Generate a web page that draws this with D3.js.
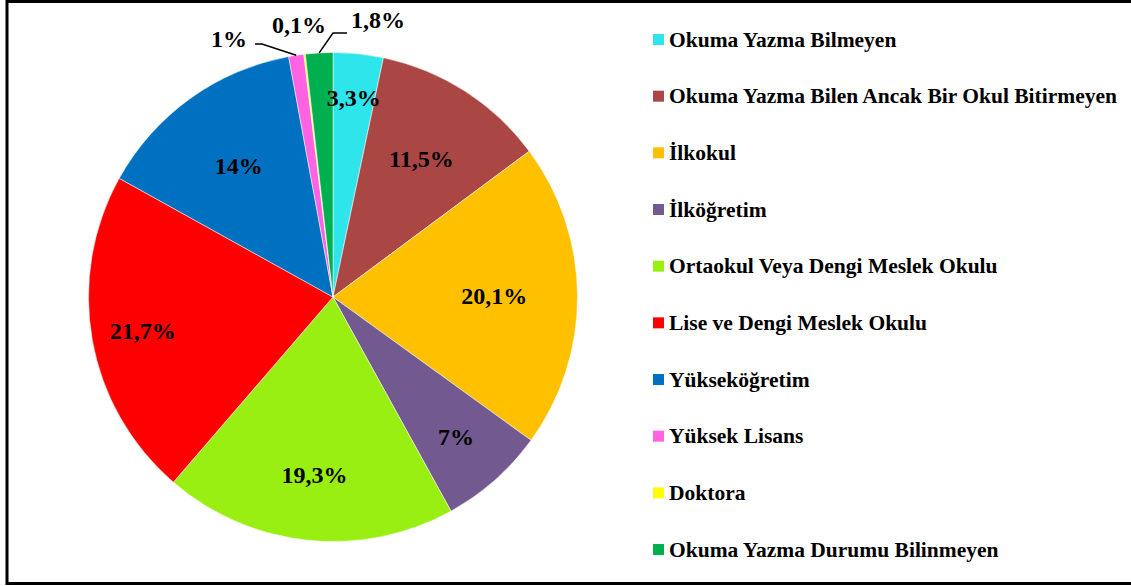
<!DOCTYPE html>
<html lang="tr">
<head>
<meta charset="utf-8">
<title>Eğitim Durumu</title>
<script src="https://d3js.org/d3.v7.min.js"></script>
<style>
  body { margin: 0; background: #fff; }
  text { font-family: "Liberation Serif", "Times New Roman", serif; font-weight: bold; }
</style>
</head>
<body>
<script>
// data
var categories = [
  "Okuma Yazma Bilmeyen",
  "Okuma Yazma Bilen Ancak Bir Okul Bitirmeyen",
  "İlkokul",
  "İlköğretim",
  "Ortaokul Veya Dengi Meslek Okulu",
  "Lise ve Dengi Meslek Okulu",
  "Yükseköğretim",
  "Yüksek Lisans",
  "Doktora",
  "Okuma Yazma Durumu Bilinmeyen"
];
var values = [3.3, 11.5, 20.1, 7, 19.3, 21.7, 14, 1, 0.1, 1.8];
var valueLabels = ["3,3%", "11,5%", "20,1%", "7%", "19,3%", "21,7%", "14%", "1%", "0,1%", "1,8%"];
var colors = ["#2EE5EC", "#AA4744", "#FFC000", "#72598F", "#99EF11",
              "#FF0000", "#0070C0", "#FF63E2", "#FFFF00", "#00B050"];

var w = 1131, h = 586;
var cx = 333, cy = 297, R = 244.5;

// label distance from centre (fraction of radius) for the inside labels
var labelR = [0.82, 0.67, 0.66, 0.76, 0.73, 0.79, 0.66];
// callouts for the thin slices: elbow, line end, text pos (relative to centre)
var callouts = {
  7: { elbow: [-71, -253], end: [-78, -253], text: [-86, -250], anchor: "end" },
  8: { elbow: null, end: null, text: [-34, -264], anchor: "middle" },
  9: { elbow: [0, -264], end: [14, -264], text: [18, -269], anchor: "start" }
};

var svg = d3.select("body").append("svg")
  .attr("width", w)
  .attr("height", h);

// frame (no right edge visible)
svg.append("path")
  .attr("d", "M1200,1.5 H7 V583.5 H1200")
  .attr("fill", "none")
  .attr("stroke", "#000")
  .attr("stroke-width", 3);

var pie = d3.pie().sort(null).value(function(d) { return d; });
var arcs = pie(values);
var arc = d3.arc().innerRadius(0).outerRadius(R);
var edge = d3.arc().innerRadius(R).outerRadius(R);

var g = svg.append("g").attr("transform", "translate(" + cx + "," + cy + ")");

g.selectAll("path.slice")
  .data(arcs)
  .enter()
  .append("path")
  .attr("class", "slice")
  .attr("d", arc)
  .attr("fill", function(d, i) { return colors[i]; })
  .attr("stroke", "#fff")
  .attr("stroke-width", 0.5);

// inside labels
g.selectAll("text.inlab")
  .data(arcs.filter(function(d, i) { return i < labelR.length; }))
  .enter()
  .append("text")
  .attr("class", "inlab")
  .attr("transform", function(d, i) {
    var a = (d.startAngle + d.endAngle) / 2;
    var r = R * labelR[i];
    return "translate(" + (r * Math.sin(a)) + "," + (-r * Math.cos(a)) + ")";
  })
  .attr("text-anchor", "middle")
  .attr("dy", "0.35em")
  .attr("font-size", "24px")
  .attr("fill", "#000")
  .text(function(d, i) { return valueLabels[i]; });

// outside labels with leader lines
Object.keys(callouts).forEach(function(k) {
  var i = +k, c = callouts[k];
  if (c.elbow) {
    var p = edge.centroid(arcs[i]);
    g.append("polyline")
      .attr("points", [p, c.elbow, c.end].map(function(q) { return q.join(","); }).join(" "))
      .attr("fill", "none")
      .attr("stroke", "#000")
      .attr("stroke-width", 1.5);
  }
  g.append("text")
    .attr("x", c.text[0])
    .attr("y", c.text[1])
    .attr("text-anchor", c.anchor)
    .attr("font-size", "24px")
    .text(valueLabels[i]);
});

// legend
var legend = svg.selectAll("g.leg")
  .data(categories)
  .enter()
  .append("g")
  .attr("class", "leg")
  .attr("transform", function(d, i) { return "translate(653," + (34 + i * 56.67) + ")"; });

legend.append("rect")
  .attr("width", 11)
  .attr("height", 11)
  .attr("fill", function(d, i) { return colors[i]; });

legend.append("text")
  .attr("x", 16)
  .attr("y", 12.5)
  .attr("font-size", "21.5px")
  .text(function(d) { return d; });
</script>
</body>
</html>
